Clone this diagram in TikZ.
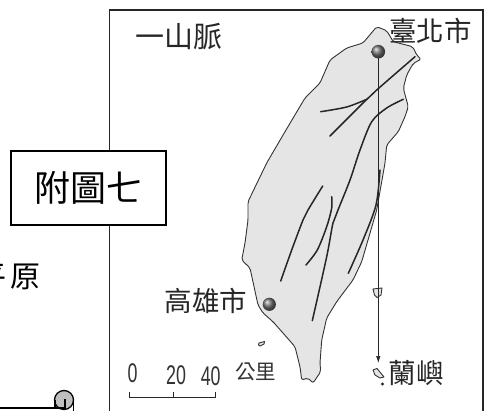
\documentclass[tikz,border=0pt]{standalone}
\usepackage{fontspec}
\usetikzlibrary{arrows.meta}
\setmainfont{Liberation Sans}
\newfontfamily\cjk{Noto Sans CJK TC}
\tikzset{
  maptext/.style={inner sep=0pt,text=black!85,font=\cjk\fontsize{27.5}{27.5}\selectfont},
  smalltext/.style={inner sep=0pt,text=black!80,font=\cjk\fontsize{20.5}{20.5}\selectfont},
  numtext/.style={inner sep=0pt,text=black!80,font=\fontsize{27}{27}\selectfont,xscale=0.66,transform shape},
  ridge/.style={line width=1.5pt,black!85,line cap=round,line join=round},
  coast/.style={line width=0.9pt,black!80,line join=round},
  border/.style={line width=1.6pt,black!85},
}
\begin{document}
\begin{tikzpicture}[x=1pt,y=-1pt]
\useasboundingbox (0,0) rectangle (497,411);
\fill[white] (0,0) rectangle (497,411);
% map frame
\draw[border] (109.5,411) -- (109.5,10) -- (483,10) -- (483,411);
% Taiwan
\draw[coast,fill=black!10,rounded corners=2pt]
 (376.7,26.7) -- (386.7,30.7) -- (393.3,41.7) -- (412.7,46.7) -- (416.7,55) -- (421,59.3) -- (413.3,63.3)
 -- (406.7,75) -- (403.3,88.3) -- (408.3,106.7) -- (405,116.7) -- (398.3,131.7) -- (386.7,145) -- (385,163)
 -- (376.7,210) -- (368,240) -- (361.7,261.7) -- (353,280) -- (336.7,301.7) -- (326.7,318) -- (321.7,340)
 -- (320,363) -- (320.7,371.7) -- (313,383) -- (308,378) -- (301.7,380) -- (300,366.7) -- (295,346.7)
 -- (273,321.7) -- (263,313) -- (258,305) -- (250,268) -- (241.7,260) -- (245,243) -- (248,220) -- (248,201.7)
 -- (266.7,163) -- (285,131.7) -- (305,98) -- (320,83) -- (330,60) -- (346.7,48) -- (363,43) -- cycle;
% ridges
\draw[ridge] plot[smooth] coordinates {(415,56.7) (376.7,90) (363,103) (330,136)};
\draw[ridge] plot[smooth] coordinates {(320.7,111.7) (346.7,107) (366.7,99.3)};
\draw[ridge] plot[smooth] coordinates {(403.3,99.3) (386.7,108) (371.7,121.7) (360,150) (350,180) (338,210) (333,223) (326.7,256.7) (312.3,320.7)};
\draw[ridge] plot[smooth] coordinates {(322.7,186) (308,210) (303,220) (291.7,250) (280.7,281)};
\draw[ridge] plot[smooth] coordinates {(331.7,196.7) (331.7,208) (326.7,226.7) (317.3,250) (306,265)};
\draw[ridge] plot[smooth] coordinates {(380,170) (376,205) (363,240) (348.3,273.3)};
% islands
\draw[coast,fill=black!10] (373,289) -- (382,288) -- (381,295) -- (377,297.5) -- (374.5,295) -- cycle;
\draw[coast,fill=black!10] (258.5,345) -- (259,343) -- (264.5,341.5) -- (264,344) -- (260,346) -- cycle;
\draw[coast,fill=black!10] (373,370) -- (377,368.5) -- (384,377) -- (380,378) -- (375,375) -- cycle;
\fill[black!85] (382.5,384) circle (1.6);
% arrow
\coordinate (tp) at (378.3,54);
\coordinate (ly) at (378.3,363);
\draw[line width=0.7pt,black!85,-{Latex[length=7pt,width=4.5pt]}] (tp) -- (ly);
% cities
\shade[ball color=black!55] (378.3,51.7) circle (6.8);
\shade[ball color=black!55] (269.3,304.3) circle (6.6);
% labels
\node[maptext,anchor=center] (taipei) at (430.5,31) {臺北市};
\node[maptext,font=\cjk\fontsize{29}{29}\selectfont,anchor=center] (range) at (178.5,37) {一山脈};
\node[maptext,anchor=center] (kh) at (206,301) {高雄市};
\node[maptext,anchor=center] (lanyu) at (416,373) {蘭嶼};
\node[smalltext,anchor=center] (km) at (255.5,372) {公里};
\node[numtext] (n0) at (132.7,373) {0};
\node[numtext] (n20) at (176,375) {20};
\node[numtext] (n40) at (210.7,376) {40};
% scale bar
\draw[line width=0.9pt,black!85] (129.3,392) -- (129.3,397) -- (215,397) -- (215,392);
\draw[line width=0.9pt,black!85] (173,392) -- (173,397);
% caption box
\node[draw=black,line width=1.5pt,fill=white,minimum width=155pt,minimum height=74pt,inner sep=0pt,font=\cjk\fontsize{36}{36}\selectfont] (cap) at (88.5,188) {附圖七};
% left text
\node[inner sep=0pt,anchor=east,font=\cjk\fontsize{30}{30}\selectfont] (plain) at (40.5,277) {平\hspace{4pt}原};
% scroll corner
\draw[line width=1.3pt,fill=black!25] (64,400) circle (9.5);
\draw[line width=1.3pt] (0,408) -- (65,408) -- (65,399);
\draw[line width=1.3pt] (55,408) -- (55,400);
\draw[line width=1.3pt] (73.5,400) -- (73.5,411);
\end{tikzpicture}
\end{document}
